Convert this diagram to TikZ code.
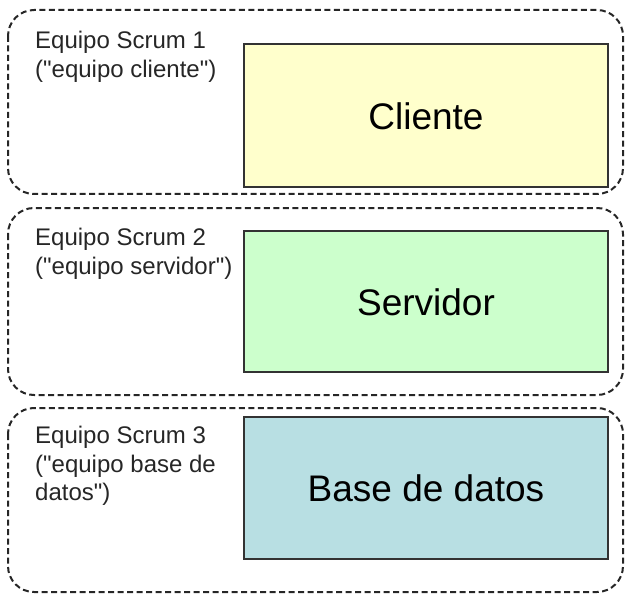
\documentclass[tikz,border=0pt]{standalone}
\usepackage{fontspec}
\setmainfont{Liberation Sans}
\newfontfamily\plainsans{Liberation Sans}
\begin{document}
\begin{tikzpicture}[x=1pt,y=-1pt,
  team/.style={draw=black!85, line width=2pt, dash pattern=on 6pt off 3.5pt, rounded corners=26pt},
  comp/.style={draw=black!80, line width=1.5pt},
  lbl/.style={anchor=north west, align=left, inner sep=0pt, font=\plainsans\fontsize{24}{28.5}\selectfont, text=black!85},
  big/.style={font=\plainsans\fontsize{37}{42}\selectfont, text=black}]
\useasboundingbox (0,0) rectangle (625,594);
\definecolor{cy}{HTML}{FFFFCC}
\definecolor{cg}{HTML}{CCFFCC}
\definecolor{cb}{HTML}{B8DFE3}
% team boxes
\draw[team] (8,10) rectangle (623,194);
\draw[team] (8,208) rectangle (623,395);
\draw[team] (8,408) rectangle (623,592);
% components
\filldraw[comp, fill=cy] (244,44) rectangle (608,187);
\filldraw[comp, fill=cg] (244,231) rectangle (608,372);
\filldraw[comp, fill=cb] (244,417) rectangle (608,559);
\node[big] (cli) at (426,116) {Cliente};
\node[big] (ser) at (426,302) {Servidor};
\node[big] (bd) at (426,488) {Base de datos};
% labels
\node[lbl] (l1) at (35,31) {Equipo Scrum 1\\("equipo cliente")};
\node[lbl] (l2) at (35,228) {Equipo Scrum 2\\("equipo servidor")};
\node[lbl] (l3) at (35,426) {Equipo Scrum 3\\("equipo base de\\datos")};
\end{tikzpicture}
\end{document}
